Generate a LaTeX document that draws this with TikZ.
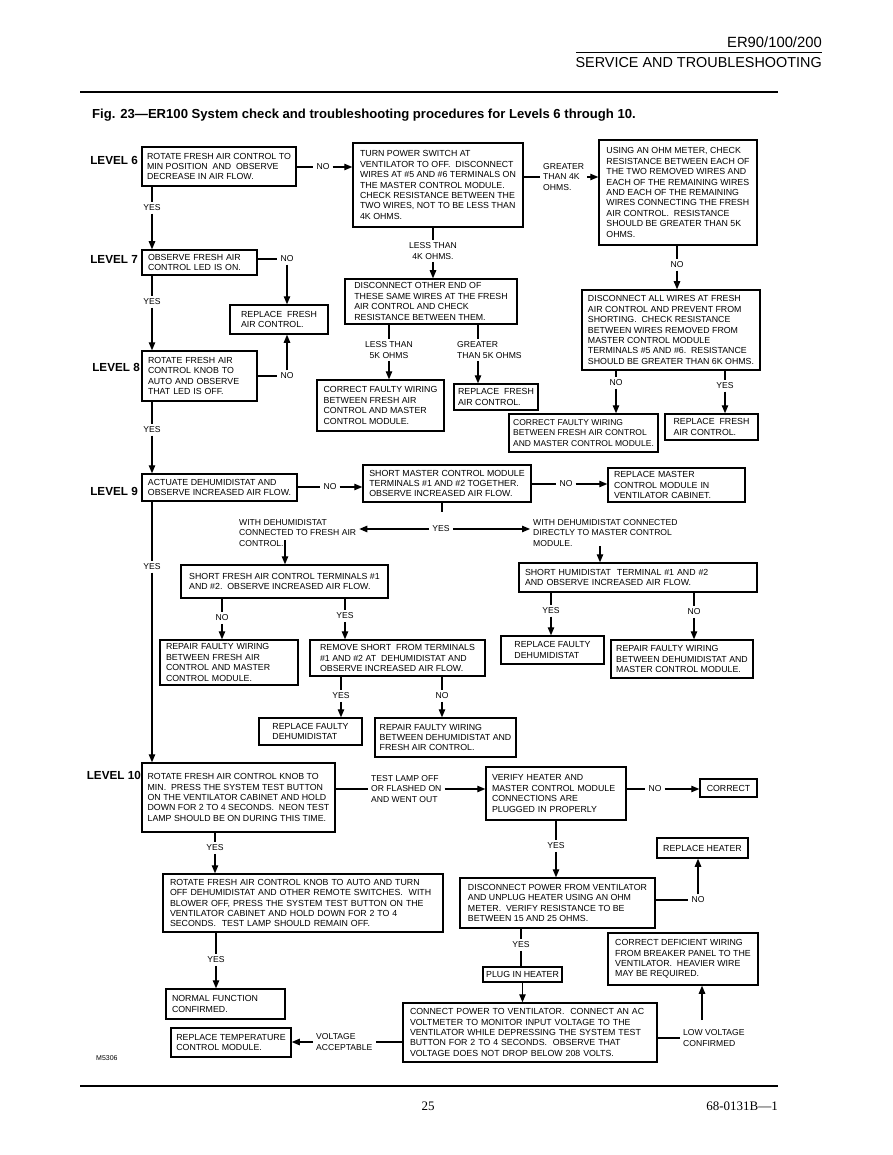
\documentclass[tikz,border=0pt]{standalone}
\usepackage{fontspec}
\setmainfont{Liberation Sans}
\newfontfamily\seriffont{Liberation Serif}
\usetikzlibrary{arrows.meta}
\newcommand\bxfont{\fontsize{8.8}{10.4}\selectfont}
\newcommand\lbfont{\fontsize{8.6}{10.2}\selectfont}
\newcommand\lvfont{\bfseries\fontsize{11.7}{13}\selectfont}
\newcommand\bx[7][]{\node[box,minimum width={#5-#3},minimum height={#6-#4},#1] (#2) at ({(#3+#5)/2},{(#4+#6)/2}) {#7};}
\begin{document}
\begin{tikzpicture}[x=1pt,y=-1pt,
 box/.style={draw,line width=1.5pt,inner xsep=3pt,inner ysep=1pt,align=left,font=\bxfont},
 lt/.style={inner xsep=6pt,text width=#1},
 lb/.style={font=\lbfont,inner xsep=3pt,inner ysep=2.5pt,align=center},
 lbw/.style={lb,align=left,anchor=west},
 lv/.style={font=\lvfont,anchor=east,inner sep=0pt},
 ln/.style={line width=1.1pt},
 ar/.style={line width=1.1pt,-{Triangle[length=8pt,width=6.5pt]}},
]
\fill[white] (0,0) rectangle (892,1155);
\useasboundingbox (0,0) rectangle (892,1155);

% header / footer
\node[anchor=east,inner sep=0,font=\fontsize{14.8}{16}\selectfont] (hA) at (822,42) {ER90/100/200};
\draw[line width=0.8pt] (576,52) -- (822,52);
\node[anchor=east,inner sep=0,font=\fontsize{14.4}{16}\selectfont] (hB) at (822,63) {SERVICE AND TROUBLESHOOTING};
\draw[line width=1.8pt] (80,92) -- (778,92);
\node[anchor=west,inner sep=0,font=\bfseries\fontsize{13.1}{15}\selectfont] (ttl) at (92,115) {Fig. 23—ER100 System check and troubleshooting procedures for Levels 6 through 10.};
\draw[line width=1.4pt] (80,1086) -- (778,1086);
\node[inner sep=0,font=\seriffont\fontsize{13}{15}\selectfont] (pg) at (428,1106) {25};
\node[anchor=east,inner sep=0,font=\seriffont\fontsize{13}{15}\selectfont] (docno) at (778,1106) {68-0131B—1};
\node[anchor=west,inner sep=0,font=\fontsize{7}{8}\selectfont] (ms) at (96,1058) {M5306};

% level labels
\node[lv] (L6) at (138,160) {LEVEL 6};
\node[lv] (L7) at (138,259) {LEVEL 7};
\node[lv] (L8) at (140,367) {LEVEL 8};
\node[lv] (L9) at (138,491) {LEVEL 9};
\node[lv] (L10) at (141,775) {LEVEL 10};

% boxes
\bx{a6}{142}{147}{296}{186}{ROTATE FRESH AIR CONTROL TO\\MIN POSITION\ \ AND\ \ OBSERVE\\DECREASE IN AIR FLOW.}
\bx{t6}{353}{143}{523}{227}{TURN POWER SWITCH AT\\VENTILATOR TO OFF.\ \ DISCONNECT\\WIRES AT \#5 AND \#6 TERMINALS ON\\THE MASTER CONTROL MODULE.\\CHECK RESISTANCE BETWEEN THE\\TWO WIRES, NOT TO BE LESS THAN\\4K OHMS.}
\bx{o6}{599}{140}{757}{245}{USING AN OHM METER, CHECK\\RESISTANCE BETWEEN EACH OF\\THE TWO REMOVED WIRES AND\\EACH OF THE REMAINING WIRES\\AND EACH OF THE REMAINING\\WIRES CONNECTING THE FRESH\\AIR CONTROL.\ \ RESISTANCE\\SHOULD BE GREATER THAN 5K\\OHMS.}
\bx[lt=103pt]{a7}{142}{250}{257}{275}{OBSERVE FRESH AIR\\CONTROL LED IS ON.}
\bx{rf1}{230}{305}{328}{334}{REPLACE\ \ FRESH\\AIR CONTROL.}
\bx[lt=103pt]{a8}{142}{351}{257}{401}{ROTATE FRESH AIR\\CONTROL KNOB TO\\AUTO AND OBSERVE\\THAT LED IS OFF.}
\bx{dother}{345}{279}{517}{324}{DISCONNECT OTHER END OF\\THESE SAME WIRES AT THE FRESH\\AIR CONTROL AND CHECK\\RESISTANCE BETWEEN THEM.}
\bx{cf1}{317}{380}{444}{431}{CORRECT FAULTY WIRING\\BETWEEN FRESH AIR\\CONTROL AND MASTER\\CONTROL MODULE.}
\bx{rf2}{454}{384}{538}{410}{REPLACE\ \ FRESH\\AIR CONTROL.}
\bx{da}{582}{290}{760}{370}{DISCONNECT ALL WIRES AT FRESH\\AIR CONTROL AND PREVENT FROM\\SHORTING.\ \ CHECK RESISTANCE\\BETWEEN WIRES REMOVED FROM\\MASTER CONTROL MODULE\\TERMINALS \#5 AND \#6.\ \ RESISTANCE\\SHOULD BE GREATER THAN 6K OHMS.}
\bx[font=\fontsize{8.5}{10.2}\selectfont]{cf2}{509}{414}{658}{452}{CORRECT FAULTY WIRING\\BETWEEN FRESH AIR CONTROL\\AND MASTER CONTROL MODULE.}
\bx{rf3}{665}{414}{758}{440}{REPLACE\ \ FRESH\\AIR CONTROL.}
\bx{a9}{142}{474}{297}{501}{ACTUATE DEHUMIDISTAT AND\\OBSERVE INCREASED AIR FLOW.}
\bx{sm}{363}{465}{531}{502}{SHORT MASTER CONTROL MODULE\\TERMINALS \#1 AND \#2 TOGETHER.\\OBSERVE INCREASED AIR FLOW.}
\bx[lt=125pt]{rm}{608}{468}{745}{502}{REPLACE MASTER\\CONTROL MODULE IN\\VENTILATOR CABINET.}
\bx{sf}{181}{565}{388}{598}{SHORT FRESH AIR CONTROL TERMINALS \#1\\AND \#2.\ \ OBSERVE INCREASED AIR FLOW.}
\bx[lt=226pt]{sh}{519}{563}{757}{592}{SHORT HUMIDISTAT\ \ TERMINAL \#1 AND \#2\\AND OBSERVE INCREASED AIR FLOW.}
\bx[lt=126pt]{rp1}{160}{640}{298}{685}{REPAIR FAULTY WIRING\\BETWEEN FRESH AIR\\CONTROL AND MASTER\\CONTROL MODULE.}
\bx{rs}{310}{640}{485}{676}{REMOVE SHORT\ \ FROM TERMINALS\\\#1 AND \#2 AT\ \ DEHUMIDISTAT AND\\OBSERVE INCREASED AIR FLOW.}
\bx{rd1}{259}{718}{362}{745}{REPLACE FAULTY\\DEHUMIDISTAT}
\bx{rfw}{375}{718}{516}{757}{REPAIR FAULTY WIRING\\BETWEEN DEHUMIDISTAT AND\\FRESH AIR CONTROL.}
\bx{rd2}{501}{636}{604}{664}{REPLACE FAULTY\\DEHUMIDISTAT}
\bx{rp2}{611}{640}{753}{678}{REPAIR FAULTY WIRING\\BETWEEN DEHUMIDISTAT AND\\MASTER CONTROL MODULE.}
\bx{a10}{142}{763}{335}{832}{ROTATE FRESH AIR CONTROL KNOB TO\\MIN.\ \ PRESS THE SYSTEM TEST BUTTON\\ON THE VENTILATOR CABINET AND HOLD\\DOWN FOR 2 TO 4 SECONDS.\ \ NEON TEST\\LAMP SHOULD BE ON DURING THIS TIME.}
\bx[lt=128pt]{vh}{486}{767}{626}{820}{VERIFY HEATER AND\\MASTER CONTROL MODULE\\CONNECTIONS ARE\\PLUGGED IN PROPERLY}
\bx{cor}{700}{779}{757}{797}{CORRECT}
\bx{rh}{657}{838}{748}{858}{REPLACE HEATER}
\bx[lt=266pt]{rt}{163}{874}{443}{932}{ROTATE FRESH AIR CONTROL KNOB TO AUTO AND TURN\\OFF DEHUMIDISTAT AND OTHER REMOTE SWITCHES.\ \ WITH\\BLOWER OFF, PRESS THE SYSTEM TEST BUTTON ON THE\\VENTILATOR CABINET AND HOLD DOWN FOR 2 TO 4\\SECONDS.\ \ TEST LAMP SHOULD REMAIN OFF.}
\bx{dp}{460}{878}{655}{928}{DISCONNECT POWER FROM VENTILATOR\\AND UNPLUG HEATER USING AN OHM\\METER.\ \ VERIFY RESISTANCE TO BE\\BETWEEN 15 AND 25 OHMS.}
\bx{cdw}{608}{933}{758}{985}{CORRECT DEFICIENT WIRING\\FROM BREAKER PANEL TO THE\\VENTILATOR.\ \ HEAVIER WIRE\\MAY BE REQUIRED.}
\bx[lt=107pt]{nf}{166}{989}{285}{1019}{NORMAL FUNCTION\\CONFIRMED.}
\bx{pih}{483}{967}{562}{982}{PLUG IN HEATER}
\bx{rtm}{171}{1028}{291}{1057}{REPLACE TEMPERATURE\\CONTROL MODULE.}
\bx[lt=240pt]{cp}{403}{1003}{657}{1062}{CONNECT POWER TO VENTILATOR.\ \ CONNECT AN AC\\VOLTMETER TO MONITOR INPUT VOLTAGE TO THE\\VENTILATOR WHILE DEPRESSING THE SYSTEM TEST\\BUTTON FOR 2 TO 4 SECONDS.\ \ OBSERVE THAT\\VOLTAGE DOES NOT DROP BELOW 208 VOLTS.}

% ---- connectors level 6
\node[lb] (n1) at (323,167) {NO};
\draw[ln] (a6.east |- n1) -- (n1.west);
\draw[ar] (n1.east) -- (t6.west |- n1);
\node[lbw] (g4) at (540,177) {GREATER\\THAN 4K\\OHMS.};
\draw[ln] (t6.east |- g4.west) -- (g4.west);
\draw[ar] (g4.east) -- (o6.west |- g4.east);
\node[lb] (n2) at (677,265) {NO};
\draw[ln] (o6.south -| n2) -- (n2.north);
\draw[ar] (n2.south) -- (da.north -| n2);
\node[lb] (y1) at (152,208) {YES};
\draw[ln] (a6.south -| y1) -- (y1.north);
\draw[ar] (y1.south) -- (a7.north -| y1);
% level 7 / 8
\node[lb] (n3) at (287,259) {NO};
\draw[ln] (a7.east |- n3) -- (n3.west);
\draw[ar] (n3.south) -- (rf1.north -| n3);
\node[lb] (n4) at (287,376) {NO};
\draw[ln] (a8.east |- n4) -- (n4.west);
\draw[ar] (n4.north) -- (rf1.south -| n4);
\node[lb] (y2) at (152,302) {YES};
\draw[ln] (a7.south -| y2) -- (y2.north);
\draw[ar] (y2.south) -- (a8.north -| y2);
\node[lb] (y3) at (152,430) {YES};
\draw[ln] (a8.south -| y3) -- (y3.north);
\draw[ar] (y3.south) -- (a9.north -| y3);
\node[lb] (l4) at (433,251) {LESS THAN\\4K OHMS.};
\draw[ln] (t6.south -| l4) -- (l4.north);
\draw[ar] (l4.south) -- (dother.north -| l4);
\node[lb] (l5) at (389,350) {LESS THAN\\5K OHMS};
\draw[ln] (dother.south -| l5) -- (l5.north);
\draw[ar] (l5.south) -- (cf1.north -| l5);
\node[lbw] (g5) at (454,350) {GREATER\\THAN 5K OHMS};
\coordinate (x5) at (478,0);
\draw[ln] (dother.south -| x5) -- (g5.north -| x5);
\draw[ar] (g5.south -| x5) -- (rf2.north -| x5);
\node[lb] (n5) at (616,383) {NO};
\draw[ln] (da.south -| n5) -- (n5.north);
\draw[ar] (n5.south) -- (cf2.north -| n5);
\node[lb] (y4) at (725,386) {YES};
\draw[ln] (da.south -| y4) -- (y4.north);
\draw[ar] (y4.south) -- (rf3.north -| y4);
% level 9
\node[lb] (n6) at (330,487) {NO};
\draw[ln] (a9.east |- n6) -- (n6.west);
\draw[ar] (n6.east) -- (sm.west |- n6);
\node[lb] (n7) at (566,484) {NO};
\draw[ln] (sm.east |- n7) -- (n7.west);
\draw[ar] (n7.east) -- (rm.west |- n7);
\coordinate (tk) at (442,512);
\draw[ln] (sm.south -| tk) -- (tk);
\node[lb] (y5) at (441,529) {YES};
\node[lbw] (w1) at (236,533) {WITH DEHUMIDISTAT\\CONNECTED TO FRESH AIR\\CONTROL.};
\node[lbw] (w2) at (530,533) {WITH DEHUMIDISTAT CONNECTED\\DIRECTLY TO MASTER CONTROL\\MODULE.};
\draw[ar] (y5.west) -- (w1.east |- y5);
\draw[ar] (y5.east) -- (w2.west |- y5);
\coordinate (c1) at (285,540);
\draw[ar] (c1) -- (sf.north -| c1);
\coordinate (c2) at (600,546);
\draw[ar] (c2) -- (sh.north -| c2);
\node[lb] (y6) at (152,567) {YES};
\draw[ln] (a9.south -| y6) -- (y6.north);
\draw[ar] (y6.south) -- (a10.north -| y6);
\node[lb] (n8) at (222,618) {NO};
\draw[ln] (sf.south -| n8) -- (n8.north);
\draw[ar] (n8.south) -- (rp1.north -| n8);
\node[lb] (y7) at (345,616) {YES};
\draw[ln] (sf.south -| y7) -- (y7.north);
\draw[ar] (y7.south) -- (rs.north -| y7);
\node[lb] (y8) at (341,696) {YES};
\draw[ln] (rs.south -| y8) -- (y8.north);
\draw[ar] (y8.south) -- (rd1.north -| y8);
\node[lb] (n9) at (442,696) {NO};
\draw[ln] (rs.south -| n9) -- (n9.north);
\draw[ar] (n9.south) -- (rfw.north -| n9);
\node[lb] (y9) at (551,611) {YES};
\draw[ln] (sh.south -| y9) -- (y9.north);
\draw[ar] (y9.south) -- (rd2.north -| y9);
\node[lb] (n10) at (694,612) {NO};
\draw[ln] (sh.south -| n10) -- (n10.north);
\draw[ar] (n10.south) -- (rp2.north -| n10);
% level 10
\node[lbw] (tl) at (368,789) {TEST LAMP OFF\\OR FLASHED ON\\AND WENT OUT};
\draw[ln] (a10.east |- tl) -- (tl.west);
\draw[ar] (tl.east) -- (vh.west |- tl);
\node[lb] (n11) at (655,789) {NO};
\draw[ln] (vh.east |- n11) -- (n11.west);
\draw[ar] (n11.east) -- (cor.west |- n11);
\node[lb] (y10) at (215,848) {YES};
\draw[ln] (a10.south -| y10) -- (y10.north);
\draw[ar] (y10.south) -- (rt.north -| y10);
\node[lb] (y11) at (556,846) {YES};
\draw[ln] (vh.south -| y11) -- (y11.north);
\draw[ar] (y11.south) -- (dp.north -| y11);
\node[lb] (n12) at (698,900) {NO};
\draw[ln] (dp.east |- n12) -- (n12.west);
\draw[ar] (n12.north) -- (rh.south -| n12);
\node[lb] (y12) at (216,960) {YES};
\draw[ln] (rt.south -| y12) -- (y12.north);
\draw[ar] (y12.south) -- (nf.north -| y12);
\node[lb] (y13) at (521,945) {YES};
\draw[ln] (dp.south -| y13) -- (y13.north);
\draw[ln] (y13.south) -- (pih.north -| y13);
\draw[ar] (pih.south) -- (cp.north -| pih.south);
\node[lbw] (lvc) at (680,1038) {LOW VOLTAGE\\CONFIRMED};
\draw[ln] (cp.east |- lvc) -- (lvc.west);
\coordinate (c7) at (702,1020);
\draw[ar] (c7) -- (cdw.south -| c7);
\node[lbw] (va) at (313,1042) {VOLTAGE\\ACCEPTABLE};
\draw[ln] (cp.west |- va) -- (va.east);
\draw[ar] (va.west) -- (rtm.east |- va);
\end{tikzpicture}
\end{document}
